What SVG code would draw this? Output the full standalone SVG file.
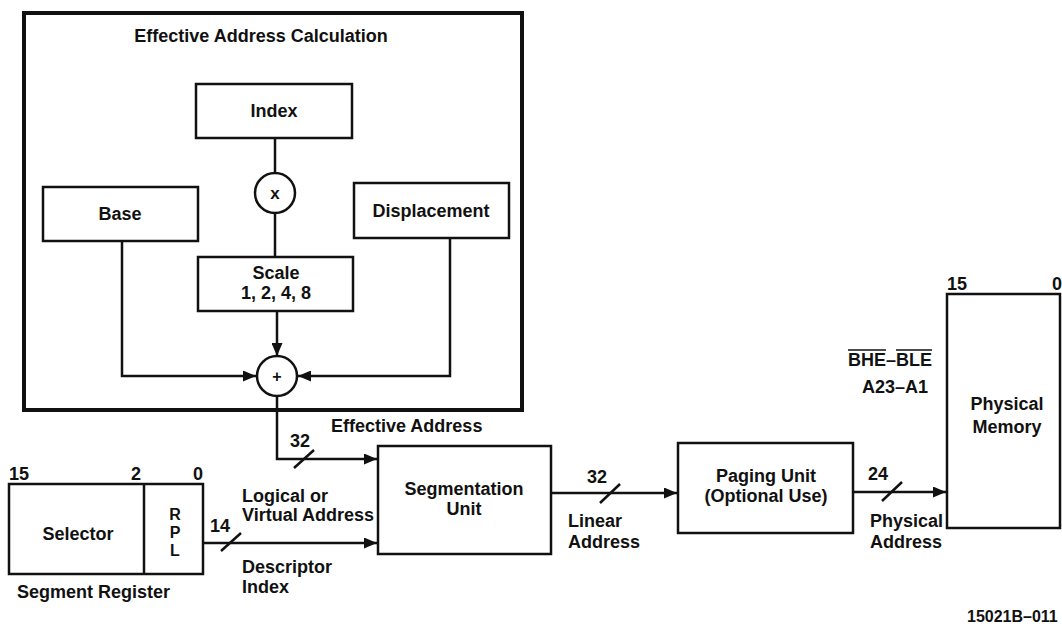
<svg xmlns="http://www.w3.org/2000/svg" width="1062" height="626" viewBox="0 0 1062 626">
<style>
text{font-family:"Liberation Sans",Arial,Helvetica,sans-serif;font-size:18px;font-weight:bold;fill:#111}
.c{text-anchor:middle}
.e{text-anchor:end}
.box{fill:#fff;stroke:#111;stroke-width:2.5}
.ln{fill:none;stroke:#111;stroke-width:2.5}
.sl{fill:none;stroke:#111;stroke-width:2.5}
</style>
<defs>
<marker id="ah" viewBox="0 0 13 11" refX="13" refY="5.5" markerWidth="13" markerHeight="11" markerUnits="userSpaceOnUse" orient="auto">
<path d="M0,0 L13,5.5 L0,11 Z" fill="#111"/>
</marker>
</defs>
<rect width="1062" height="626" fill="#fff"/>

<g id="ea-frame">
<rect x="24" y="13" width="498" height="397" fill="none" stroke="#111" stroke-width="4"/>
<text class="c" x="261" y="42">Effective Address Calculation</text>
</g>

<g id="connectors">
<path class="ln" d="M275,138 V173"/>
<path class="ln" d="M275,213 V257"/>
<path class="ln" d="M277,311 V356" marker-end="url(#ah)"/>
<path class="ln" d="M122,241 V376 H256" marker-end="url(#ah)"/>
<path class="ln" d="M450,238 V376 H298" marker-end="url(#ah)"/>
<path class="ln" d="M277,396 V459 H377" marker-end="url(#ah)"/>
<path class="sl" d="M294,468 L314,450"/>
<path class="ln" d="M203,543 H377" marker-end="url(#ah)"/>
<path class="sl" d="M221,551 L241,533"/>
<path class="ln" d="M551,493 H677" marker-end="url(#ah)"/>
<path class="sl" d="M600,503 L620,484"/>
<path class="ln" d="M853,492 H946" marker-end="url(#ah)"/>
<path class="sl" d="M882,501 L902,482"/>
</g>

<g id="index">
<rect class="box" x="196" y="84" width="156" height="54"/>
<text class="c" x="274" y="117">Index</text>
</g>

<g id="mult">
<circle class="box" cx="275" cy="193" r="20"/>
<text class="c" x="275" y="199" style="font-size:17px">x</text>
</g>

<g id="base">
<rect class="box" x="43" y="187" width="155" height="54"/>
<text class="c" x="120" y="220">Base</text>
</g>

<g id="displacement">
<rect class="box" x="354" y="183" width="155" height="55"/>
<text class="c" x="431" y="217">Displacement</text>
</g>

<g id="scale">
<rect class="box" x="198" y="257" width="155" height="54"/>
<text class="c" x="276" y="279">Scale</text>
<text class="c" x="276" y="299">1, 2, 4, 8</text>
</g>

<g id="adder">
<circle class="box" cx="277" cy="376" r="20"/>
<text class="c" x="277" y="382" style="font-size:16px">+</text>
</g>

<g id="ea-label">
<text x="331" y="432">Effective Address</text>
<text x="290" y="447">32</text>
</g>

<g id="segment-register">
<rect class="box" x="9" y="484" width="194" height="90"/>
<line class="ln" x1="144" y1="484" x2="144" y2="574"/>
<text x="9" y="480">15</text>
<text x="131" y="480">2</text>
<text x="193" y="480">0</text>
<text class="c" x="78" y="540">Selector</text>
<text class="c" x="175" y="520" style="font-size:16px">R</text>
<text class="c" x="175" y="538" style="font-size:16px">P</text>
<text class="c" x="175" y="556" style="font-size:16px">L</text>
<text x="17" y="598">Segment Register</text>
</g>

<g id="logical-labels">
<text x="210" y="532">14</text>
<text x="242" y="502">Logical or</text>
<text x="242" y="521">Virtual Address</text>
<text x="242" y="573">Descriptor</text>
<text x="242" y="593">Index</text>
</g>

<g id="segmentation">
<rect class="box" x="378" y="446" width="173" height="108"/>
<text class="c" x="464" y="495">Segmentation</text>
<text class="c" x="464" y="515">Unit</text>
</g>

<g id="linear-labels">
<text x="587" y="483">32</text>
<text x="568" y="527">Linear</text>
<text x="568" y="548">Address</text>
</g>

<g id="paging">
<rect class="box" x="678" y="443" width="175" height="90"/>
<text class="c" x="766" y="482">Paging Unit</text>
<text class="c" x="766" y="502">(Optional Use)</text>
</g>

<g id="physical-labels">
<text x="868" y="480">24</text>
<text x="870" y="527">Physical</text>
<text x="870" y="548">Address</text>
</g>

<g id="physical-memory">
<rect class="box" x="947" y="294" width="113" height="234"/>
<text x="947" y="290">15</text>
<text x="1052" y="290">0</text>
<text class="c" x="1007" y="410">Physical</text>
<text class="c" x="1007" y="433">Memory</text>
</g>

<g id="bus-labels">
<text class="e" x="932" y="366">BHE–BLE</text>
<line x1="848" y1="350" x2="886" y2="350" stroke="#111" stroke-width="1.5"/>
<line x1="896" y1="350" x2="932" y2="350" stroke="#111" stroke-width="1.5"/>
<text class="e" x="928" y="393">A23–A1</text>
</g>

<g id="figure-id">
<text x="967" y="622" style="font-size:16px">15021B–011</text>
</g>
</svg>
